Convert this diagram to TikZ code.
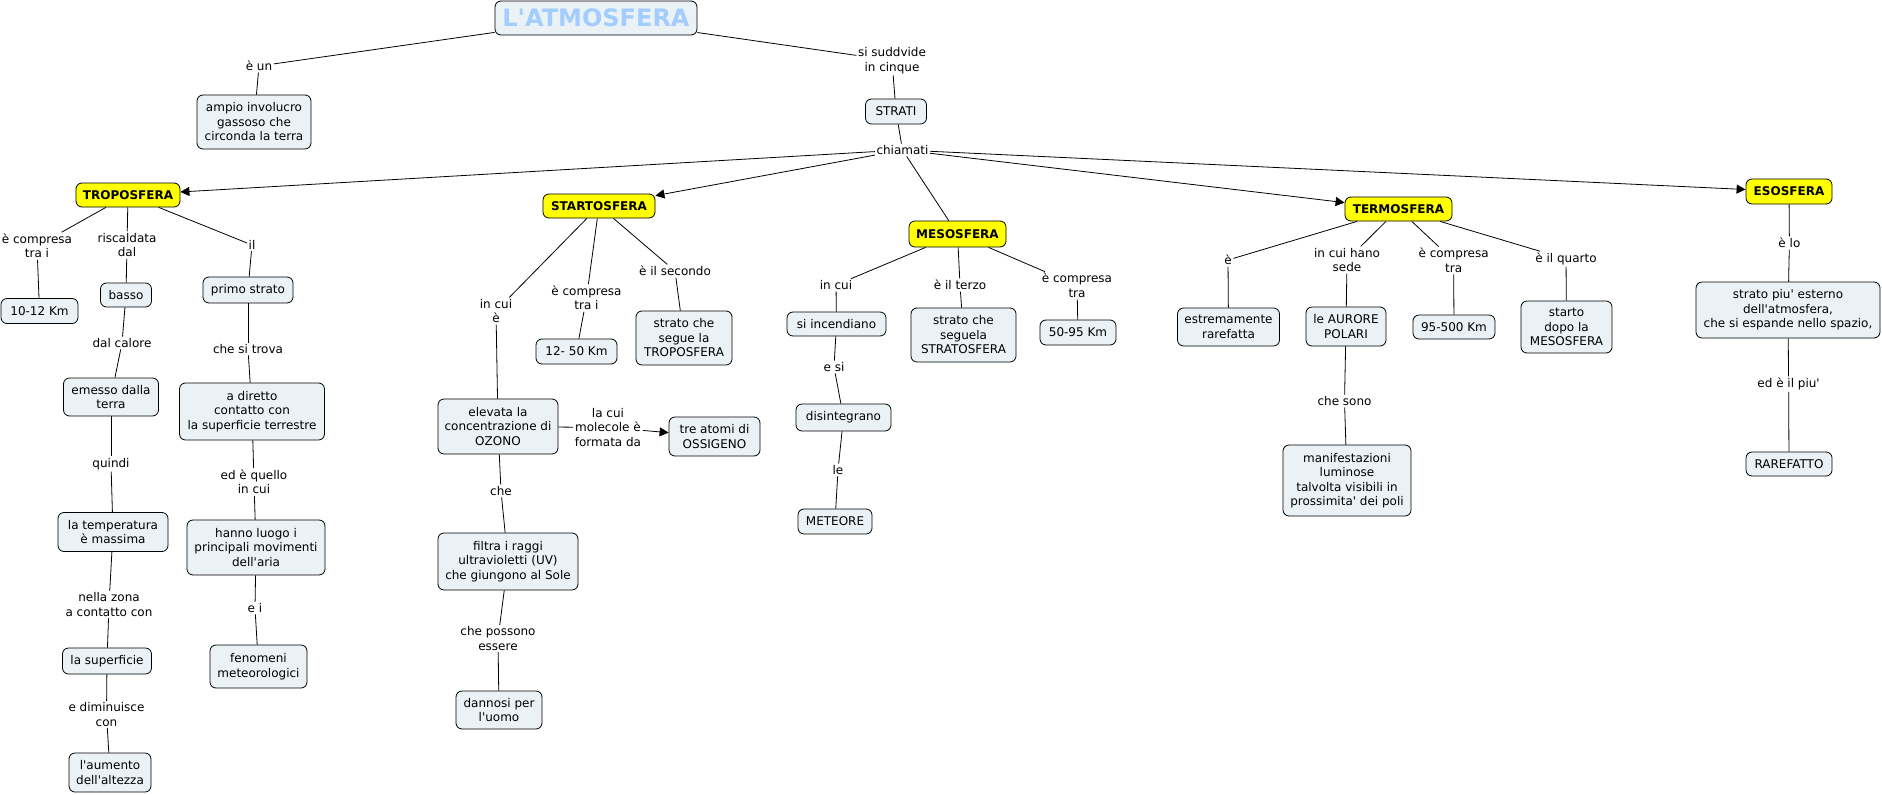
\documentclass[tikz,border=0pt]{standalone}
\usepackage{fontspec}
\setmainfont{DejaVu Sans}
\usetikzlibrary{arrows.meta}
\definecolor{cfill}{HTML}{EBF2F5}
\definecolor{yfill}{HTML}{FFFF00}
\definecolor{titleblue}{HTML}{A3CDFF}
\newcommand{\ap}{\textquotesingle}
\tikzset{
  concept/.style={draw=black, line width=0.8pt, rounded corners=6pt, fill=cfill, align=center,
    inner sep=2pt, font=\fontsize{12}{14.5}\selectfont},
  layer/.style={concept, fill=yfill, font=\fontsize{12}{14.5}\selectfont\bfseries},
  lab/.style={align=center, inner sep=1.5pt, font=\fontsize{12}{14.5}\selectfont},
  conn/.style={draw=black, line width=0.8pt},
  arr/.style={conn, -{Triangle[length=9pt,width=9pt]}}
}
\begin{document}
\begin{tikzpicture}[x=1pt,y=-1pt]
\useasboundingbox (0,0) rectangle (1882,795);
% title
\node[concept, minimum width=202pt, minimum height=34pt, font=\fontsize{24}{28}\selectfont\bfseries, text=titleblue] (title) at (596,18) {L\ap ATMOSFERA};
% concepts
\node[concept, minimum width=114pt, minimum height=54pt] (ampio) at (254,122) {ampio involucro\\gassoso che\\circonda la terra};
\node[concept, minimum width=61pt, minimum height=25pt] (strati) at (896,111.5) {STRATI};
\node[layer, minimum width=104pt, minimum height=24pt] (tropo) at (128,195) {TROPOSFERA};
\node[layer, minimum width=112pt, minimum height=24pt] (strat) at (599,206) {STARTOSFERA};
\node[layer, minimum width=97pt, minimum height=26pt] (meso) at (957.5,234) {MESOSFERA};
\node[layer, minimum width=107pt, minimum height=24pt] (termo) at (1398.5,209) {TERMOSFERA};
\node[layer, minimum width=86pt, minimum height=25pt] (eso) at (1789,191.5) {ESOSFERA};
\node[concept, minimum width=77pt, minimum height=25pt] (km1012) at (39.5,311) {10-12 Km};
\node[concept, minimum width=51pt, minimum height=24pt] (basso) at (126,295) {basso};
\node[concept, minimum width=90pt, minimum height=26pt] (primo) at (248,290) {primo strato};
\node[concept, minimum width=95pt, minimum height=38pt] (emesso) at (111,397) {emesso dalla\\terra};
\node[concept, minimum width=110pt, minimum height=39pt] (temp) at (113,532) {la temperatura\\è massima};
\node[concept, minimum width=89pt, minimum height=26pt] (sup) at (107,661) {la superficie};
\node[concept, minimum width=82pt, minimum height=39pt] (aumento) at (110,772.5) {l\ap aumento\\dell\ap altezza};
\node[concept, minimum width=145pt, minimum height=57pt] (diretto) at (252,411.5) {a diretto\\contatto con\\la superficie terrestre};
\node[concept, minimum width=138pt, minimum height=55pt] (hanno) at (256,547.5) {hanno luogo i\\principali movimenti\\dell\ap aria};
\node[concept, minimum width=97pt, minimum height=43pt] (fenomeni) at (258.5,666.5) {fenomeni\\meteorologici};
\node[concept, minimum width=120pt, minimum height=55pt] (elevata) at (498,426.5) {elevata la\\concentrazione di\\OZONO};
\node[concept, minimum width=81pt, minimum height=25pt] (km1250) at (576.5,351.5) {12- 50 Km};
\node[concept, minimum width=96pt, minimum height=54pt] (segue) at (684,338) {strato che\\segue la\\TROPOSFERA};
\node[concept, minimum width=91pt, minimum height=39pt] (ossigeno) at (714.5,436.5) {tre atomi di\\OSSIGENO};
\node[concept, minimum width=140pt, minimum height=57pt] (filtra) at (508,561.5) {filtra i raggi\\ultravioletti (UV)\\che giungono al Sole};
\node[concept, minimum width=86pt, minimum height=38pt] (dannosi) at (499,710) {dannosi per\\l\ap uomo};
\node[concept, minimum width=99pt, minimum height=24pt] (incend) at (836.5,324) {si incendiano};
\node[concept, minimum width=95pt, minimum height=27pt] (disint) at (843.5,417.5) {disintegrano};
\node[concept, minimum width=74pt, minimum height=25pt] (meteore) at (835,521.5) {METEORE};
\node[concept, minimum width=105pt, minimum height=54pt] (seguela) at (963.5,335) {strato che\\seguela\\STRATOSFERA};
\node[concept, minimum width=76pt, minimum height=25pt] (km5095) at (1078,332.5) {50-95 Km};
\node[concept, minimum width=102pt, minimum height=38pt] (rarefatta) at (1228.5,327) {estremamente\\rarefatta};
\node[concept, minimum width=80pt, minimum height=39pt] (aurore) at (1346,326.5) {le AURORE\\POLARI};
\node[concept, minimum width=128pt, minimum height=71pt] (manif) at (1347,480.5) {manifestazioni\\luminose\\talvolta visibili in\\prossimita\ap{} dei poli};
\node[concept, minimum width=82pt, minimum height=24pt] (km95500) at (1454,327) {95-500 Km};
\node[concept, minimum width=91pt, minimum height=52pt] (starto) at (1566.5,327) {starto\\dopo la\\MESOSFERA};
\node[concept, minimum width=184pt, minimum height=56pt] (esterno) at (1788,310) {strato piu\ap{} esterno\\dell\ap atmosfera,\\che si espande nello spazio,};
\node[concept, minimum width=86pt, minimum height=24pt] (rarefatto) at (1789,464) {RAREFATTO};
% linking phrases
\node[lab] (leun) at (259,66) {è un};
\node[lab] (lsuddv) at (892,60.5) {si suddvide\\in cinque};
\node[lab] (lchiam) at (902.5,150) {chiamati};
\node[lab] (lcompr1) at (37,246) {è compresa\\tra i};
\node[lab] (lrisc) at (127,245) {riscaldata\\dal};
\node[lab] (lil) at (252,245) {il};
\node[lab] (lcalore) at (122,343) {dal calore};
\node[lab] (lquindi) at (111,464) {quindi};
\node[lab] (lzona) at (109,604.5) {nella zona\\a contatto con};
\node[lab] (ldimin) at (106.5,714.5) {e diminuisce\\con};
\node[lab] (ltrova) at (248,349) {che si trova};
\node[lab] (lquello) at (254,482) {ed è quello\\in cui};
\node[lab] (lei) at (255,608) {e i};
\node[lab] (lincuie) at (496,311) {in cui\\è};
\node[lab] (lcompr2) at (586.5,298) {è compresa\\tra i};
\node[lab] (lsecondo) at (675,271) {è il secondo};
\node[lab] (lmolec) at (608,427.5) {la cui\\molecole è\\formata da};
\node[lab] (lche) at (501,491) {che};
\node[lab] (lpossono) at (498,638.5) {che possono\\essere};
\node[lab] (lincui) at (836,285) {in cui};
\node[lab] (lesi) at (834,367) {e si};
\node[lab] (lle) at (838,470) {le};
\node[lab] (lterzo) at (960,285) {è il terzo};
\node[lab] (lcompr3) at (1077,285.5) {è compresa\\tra};
\node[lab] (le) at (1228,260) {è};
\node[lab] (lhano) at (1347,260) {in cui hano\\sede};
\node[lab] (lcompr4) at (1453.6,260.5) {è compresa\\tra};
\node[lab] (lquarto) at (1566,259) {è il quarto};
\node[lab] (lsono) at (1344.5,401) {che sono};
\node[lab] (llo) at (1789.4,243) {è lo};
\node[lab] (lpiu) at (1788.6,384) {ed è il piu\ap};
% connectors
\draw[conn] (title) -- (leun);
\draw[conn] (leun) -- (ampio);
\draw[conn] (title) -- (lsuddv);
\draw[conn] (lsuddv) -- (strati);
\draw[conn] (strati) -- (lchiam);
\draw[arr] (lchiam) -- (tropo);
\draw[arr] (lchiam) -- (strat);
\draw[conn] (lchiam) -- (meso);
\draw[arr] (lchiam) -- (termo);
\draw[arr] (lchiam) -- (eso);
% troposfera
\draw[conn] (tropo) -- (lcompr1);
\draw[conn] (lcompr1) -- (km1012);
\draw[conn] (tropo) -- (lrisc);
\draw[conn] (lrisc) -- (basso);
\draw[conn] (tropo) -- (lil);
\draw[conn] (lil) -- (primo);
\draw[conn] (basso) -- (lcalore);
\draw[conn] (lcalore) -- (emesso);
\draw[conn] (emesso) -- (lquindi);
\draw[conn] (lquindi) -- (temp);
\draw[conn] (temp) -- (lzona);
\draw[conn] (lzona) -- (sup);
\draw[conn] (sup) -- (ldimin);
\draw[conn] (ldimin) -- (aumento);
\draw[conn] (primo) -- (ltrova);
\draw[conn] (ltrova) -- (diretto);
\draw[conn] (diretto) -- (lquello);
\draw[conn] (lquello) -- (hanno);
\draw[conn] (hanno) -- (lei);
\draw[conn] (lei) -- (fenomeni);
% stratosfera
\draw[conn] (strat) -- (lincuie);
\draw[conn] (lincuie) -- (elevata);
\draw[conn] (strat) -- (lcompr2);
\draw[conn] (lcompr2) -- (km1250);
\draw[conn] (strat) -- (lsecondo);
\draw[conn] (lsecondo) -- (segue);
\draw[conn] (elevata) -- (lmolec);
\draw[arr] (lmolec) -- (ossigeno);
\draw[conn] (elevata) -- (lche);
\draw[conn] (lche) -- (filtra);
\draw[conn] (filtra) -- (lpossono);
\draw[conn] (lpossono) -- (dannosi);
% mesosfera
\draw[conn] (meso) -- (lincui);
\draw[conn] (lincui) -- (incend);
\draw[conn] (incend) -- (lesi);
\draw[conn] (lesi) -- (disint);
\draw[conn] (disint) -- (lle);
\draw[conn] (lle) -- (meteore);
\draw[conn] (meso) -- (lterzo);
\draw[conn] (lterzo) -- (seguela);
\draw[conn] (meso) -- (lcompr3);
\draw[conn] (lcompr3) -- (km5095);
% termosfera
\draw[conn] (termo) -- (le);
\draw[conn] (le) -- (rarefatta);
\draw[conn] (termo) -- (lhano);
\draw[conn] (lhano) -- (aurore);
\draw[conn] (aurore) -- (lsono);
\draw[conn] (lsono) -- (manif);
\draw[conn] (termo) -- (lcompr4);
\draw[conn] (lcompr4) -- (km95500);
\draw[conn] (termo) -- (lquarto);
\draw[conn] (lquarto) -- (starto);
% esosfera
\draw[conn] (eso) -- (llo);
\draw[conn] (llo) -- (esterno);
\draw[conn] (esterno) -- (lpiu);
\draw[conn] (lpiu) -- (rarefatto);
\end{tikzpicture}
\end{document}
